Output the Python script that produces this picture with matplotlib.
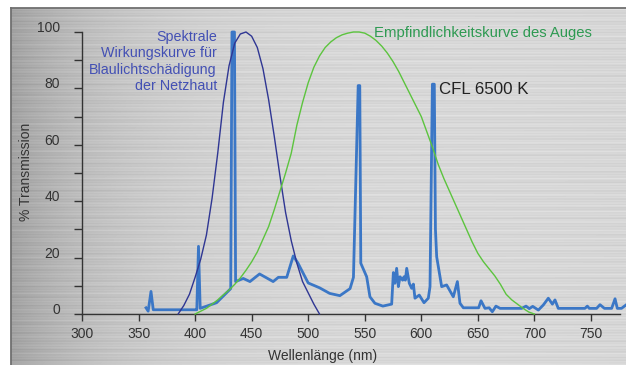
import numpy as np
import matplotlib
matplotlib.use("Agg")
import matplotlib.pyplot as plt
from matplotlib.lines import Line2D

plt.rcParams['font.family'] = ['Liberation Sans', 'DejaVu Sans']

# ---------------- data ----------------
hazard_nm = [385, 390, 395, 400, 405, 410, 415, 420, 425, 430, 435, 440, 445, 450, 455, 460,
             465, 470, 475, 480, 485, 490, 495, 500, 505, 510]
hazard_val = [0, 3, 7, 13, 19.5, 28, 41, 57, 75, 88, 96, 99.3, 100, 98.5, 94.5, 87,
              76, 63, 49, 36, 26, 18, 11.5, 7.5, 3.5, 0]

green_nm = [400, 405, 410, 415, 420, 425, 430, 435, 440, 445, 450, 455, 460, 465, 470, 475,
            480, 485, 490, 495, 500, 505, 510, 515, 520, 525, 530, 535, 540, 545, 550, 555,
            560, 565, 570, 575, 580, 585, 590, 595, 600, 605, 610, 615, 620, 625, 630, 635,
            640, 645, 650, 655, 660, 665, 670, 675, 680, 685, 690, 695, 700]
green_val = [0, 1, 2, 3.5, 5, 6.8, 8.5, 10.5, 12.8, 15.5, 18.5, 22, 26.5, 31, 37, 43.5,
             50, 57, 67, 75, 82, 87.5, 91.5, 94.5, 96.5, 98, 99, 99.6, 100, 100, 99.6, 98.5,
             97, 95, 92.5, 89.5, 86, 82, 78, 74, 70, 64.5, 59, 53, 48, 43.5, 39, 34.5,
             30, 25.5, 21.5, 18.5, 16, 13.5, 10.5, 7, 5, 3.5, 2, 0.7, 0]

cfl_nm = [356.6, 358.5, 361, 363, 400, 401.5, 403, 404.5, 419, 431.5, 432.6, 434.8, 435.8, 442.6,
          448.5, 457, 469, 473.6, 481, 486.8, 491, 500, 510, 519, 528, 537, 540, 544.2, 545.6,
          546.5, 551.7, 554.6, 559, 566, 573.8, 575.3, 576.7, 578.2, 579.7, 581.2, 583.5, 584.7,
          585.9, 587.1, 589.4, 591.5, 593, 594.4, 598.2, 602.4, 606.2, 607.7, 609.8, 611.5, 612.5,
          613.6, 618, 622.4, 628.3, 631.9, 634.2, 637.2, 650.7, 652.8, 656.3, 660, 662.8, 666,
          669.6, 688.8, 692.6, 695.5, 698.5, 703.5, 707.9, 712.3, 715.9, 718.2, 721.1, 744.7,
          746.8, 748.5, 755, 758, 761.9, 768.3, 771.3, 773.3, 777, 781]
cfl_val = [2.2, 1.0, 8, 1.5, 1.5, 1.5, 24, 2, 4, 9, 100, 100, 11.5, 12.6,
           11.5, 14.2, 11.5, 13, 13, 20.6, 18, 11, 9.3, 7.3, 6.5, 9, 13, 81, 81,
           18, 13.2, 6.1, 3.8, 2.8, 3.5, 14.7, 10.9, 16.2, 9.7, 13.2, 12, 13.2,
           12, 16.2, 10.9, 9.1, 10.6, 5.6, 6.7, 4.0, 5.6, 9.7, 81.5, 81.5, 30,
           20.3, 9.7, 10.3, 6.1, 11.5, 3.8, 2.2, 2.2, 4.7, 2, 2.2, 0.8, 2.8,
           2, 2, 2.8, 1.9, 2.7, 1.4, 3.2, 5.6, 3.5, 5, 2, 2,
           2.8, 2, 2, 3.3, 2, 2, 5.4, 2, 2, 3.2]

x_ticks = [300, 350, 400, 450, 500, 550, 600, 650, 700, 750]
x_labels = ['300', '350', '400', '450', '500', '550', '600', '650', '700', '750']
y_major = [0, 20, 40, 60, 80, 100]
y_labels = ['0', '20', '40', '60', '80', '100']
y_minor = [10, 30, 50, 70, 90]

hazard_lines = ['Spektrale', 'Wirkungskurve für', 'Blaulichtschädigung', 'der Netzhaut']
green_label = 'Empfindlichkeitskurve des Auges'
cfl_label = 'CFL 6500 K'
xlabel = 'Wellenlänge (nm)'
ylabel = '% Transmission'

# ---------------- figure ----------------
W, H = 626, 365
fig = plt.figure(figsize=(W / 100, H / 100), dpi=100)
fig.patch.set_facecolor('white')


def fx(px):
    return px / W


def fy(py):
    return 1 - py / H


# brushed-metal background panel
bg = fig.add_axes([fx(11), 0, 1 - fx(11), fy(8)])
bg.set_axis_off()
nx, ny = 615, 357
xs = np.arange(nx)[None, :].astype(float)
ys = np.arange(ny)[:, None].astype(float)
base = 0.855 - 0.22 * np.exp(-xs / 110.0) - 0.015 * (xs / nx) ** 3
streak = (0.016 * np.sin(ys * 2.3) + 0.012 * np.sin(ys * 0.71 + 0.9)
          + 0.008 * np.sin(ys * 5.1 + xs * 0.004) + 0.006 * np.sin(ys * 1.37 + xs * 0.011))
img = np.clip(base + streak, 0, 1)
bg.imshow(img, cmap='gray', vmin=0, vmax=1, aspect='auto', interpolation='bilinear',
          extent=[0, 1, 0, 1])
bg.set_xlim(0, 1)
bg.set_ylim(0, 1)

fig.add_artist(Line2D([fx(10.8), fx(10.8)], [0, fy(8)], color='#707070', lw=1.3,
                      transform=fig.transFigure))
fig.add_artist(Line2D([fx(10.8), 1], [fy(8.3), fy(8.3)], color='#707070', lw=1.3,
                      transform=fig.transFigure))

# main axes
ax = fig.add_axes([fx(82), fy(314), fx(626) - fx(82), fy(32) - fy(314)])
ax.set_facecolor('none')
ax.set_xlim(300, 300 + 544 / 1.131)
ax.set_ylim(0, 100)

ax.plot(cfl_nm, cfl_val, color='#3b77c6', lw=2.0, clip_on=False, zorder=2)
ax.plot(hazard_nm, hazard_val, color='#2f3693', lw=1.0, clip_on=False, zorder=3)
ax.plot(green_nm, green_val, color='#5cc43e', lw=1.0, clip_on=False, zorder=3)

for s in ['top', 'right']:
    ax.spines[s].set_visible(False)
ax.spines['left'].set_bounds(0, 100)
ax.spines['bottom'].set_bounds(300, 776)
for s in ['left', 'bottom']:
    ax.spines[s].set_color('#333333')
    ax.spines[s].set_linewidth(1.0)

ax.set_xticks(x_ticks)
ax.set_xticklabels(x_labels)
ax.set_yticks(y_major)
ax.set_yticklabels(y_labels)
ax.set_yticks(y_minor, minor=True)
ax.tick_params(axis='x', direction='out', length=5, width=1, color='#333333',
               labelcolor='#333333', labelsize=10, pad=4)
ax.tick_params(axis='y', which='both', direction='out', length=6, width=1, color='#333333',
               labelcolor='#333333', labelsize=10, pad=10)
for lbl in ax.get_yticklabels():
    lbl.set_va('baseline')

fig.text(fx(26), fy(172), ylabel, rotation=90, ha='center', va='center',
         fontsize=10, color='#333333')
fig.text(fx(323), fy(360), xlabel, ha='center', va='baseline', fontsize=10, color='#333333')

for i, line in enumerate(hazard_lines):
    fig.text(fx(217), fy(40.7 + 16.5 * i), line, ha='right', va='baseline',
             fontsize=10.3, color='#4350b4')
fig.text(fx(374), fy(37), green_label, ha='left', va='baseline', fontsize=10.7, color='#2e9a52')
fig.text(fx(439), fy(94), cfl_label, ha='left', va='baseline', fontsize=12.2, color='#222222')

fig.savefig('out.png', dpi=100)
